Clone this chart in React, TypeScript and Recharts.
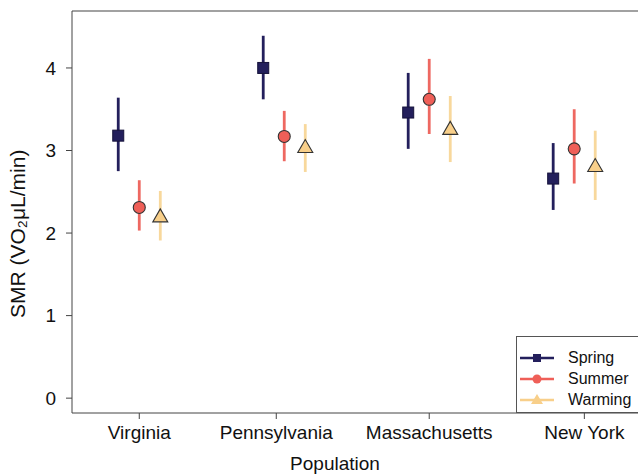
import React from "react";
import {
  ScatterChart,
  Scatter,
  XAxis,
  YAxis,
  ErrorBar,
  ReferenceLine,
} from "recharts";

const populations = ["Virginia", "Pennsylvania", "Massachusetts", "New York"];
// tick positions as placed in the original figure (not exactly on the point groups)
const tickPos = [1.0, 1.945, 3.0, 4.07];

const springMean = [3.18, 4.0, 3.46, 2.66];
const springLow = [2.75, 3.62, 3.02, 2.28];
const springHigh = [3.64, 4.39, 3.94, 3.09];

const summerMean = [2.31, 3.17, 3.62, 3.02];
const summerLow = [2.03, 2.87, 3.2, 2.6];
const summerHigh = [2.64, 3.48, 4.11, 3.5];

const warmingMean = [2.19, 3.03, 3.25, 2.8];
const warmingLow = [1.91, 2.74, 2.86, 2.4];
const warmingHigh = [2.51, 3.32, 3.66, 3.24];

const yTicks = [0, 1, 2, 3, 4];

const FONT = "'Liberation Sans', Arial, sans-serif";
const AXIS = "#444";

const build = (mean: number[], low: number[], high: number[], offset: number) =>
  populations.map((p, i) => ({
    name: p,
    x: i + 1 + offset,
    y: mean[i],
    err: [mean[i] - low[i], high[i] - mean[i]],
  }));

const springData = build(springMean, springLow, springHigh, -0.145);
const summerData = build(summerMean, summerLow, summerHigh, 0);
const warmingData = build(warmingMean, warmingLow, warmingHigh, 0.145);

const SquareShape = (props: any) => {
  const { cx, cy } = props;
  return <rect x={cx - 5.5} y={cy - 5.5} width={11} height={11} fill="#231f5c" stroke="#15123a" strokeWidth={1} />;
};

const CircleShape = (props: any) => {
  const { cx, cy } = props;
  return <circle cx={cx} cy={cy} r={6} fill="#ef5f58" stroke="#333" strokeWidth={1.1} />;
};

const TriangleShape = (props: any) => {
  const { cx, cy } = props;
  const pts = `${cx},${cy - 8.5} ${cx - 7.5},${cy + 4.5} ${cx + 7.5},${cy + 4.5}`;
  return <polygon points={pts} fill="#f8cf8a" stroke="#333" strokeWidth={1.1} />;
};

const legendItems = [
  { label: "Spring", color: "#231f5c", kind: "square" },
  { label: "Summer", color: "#ef5f58", kind: "circle" },
  { label: "Warming", color: "#f8cf8a", kind: "triangle" },
];

const LegendIcon = ({ color, kind }: { color: string; kind: string }) => (
  <svg width={34} height={14} style={{ marginRight: 14 }}>
    <line x1={0} y1={7} x2={34} y2={7} stroke={color} strokeWidth={2.5} />
    {kind === "square" && <rect x={13} y={3} width={8} height={8} fill={color} />}
    {kind === "circle" && <circle cx={17} cy={7} r={4.5} fill={color} />}
    {kind === "triangle" && <polygon points="17,1 11,11 23,11" fill={color} />}
  </svg>
);

export default function App() {
  return (
    <div style={{ position: "absolute", left: 0, top: 0, width: 638, height: 474, background: "#fff", fontFamily: FONT }}>
      <ScatterChart width={638} height={474} margin={{ top: 11, right: 0, bottom: 21, left: 0 }}>
        <XAxis
          type="number"
          dataKey="x"
          domain={[0.536, 4.44]}
          ticks={tickPos}
          tickFormatter={(v: number) => populations[tickPos.indexOf(v)] ?? ""}
          allowDataOverflow
          height={40}
          tickSize={6}
          tickMargin={7}
          stroke={AXIS}
          tick={{ fill: "#111", fontSize: 19, fontFamily: FONT }}
          label={{ value: "Population", position: "insideBottom", offset: -17, fill: "#111", fontSize: 19, fontFamily: FONT, dx: -20 }}
        />
        <YAxis
          type="number"
          dataKey="y"
          domain={[-0.18, 4.69]}
          ticks={yTicks}
          allowDataOverflow
          width={72}
          tickSize={6}
          tickMargin={10}
          stroke={AXIS}
          tick={{ fill: "#111", fontSize: 19, fontFamily: FONT }}
          label={{
            value: "SMR (VO₂μL/min)",
            angle: -90,
            position: "insideLeft",
            offset: 18,
            dy: 106,
            fill: "#111",
            fontSize: 21,
            fontFamily: FONT,
          }}
        />
        <ReferenceLine y={4.69} stroke={AXIS} strokeWidth={1.2} ifOverflow="visible" />
        <Scatter data={springData} shape={SquareShape} isAnimationActive={false}>
          <ErrorBar dataKey="err" direction="y" width={0} stroke="#231f5c" strokeWidth={2.8} />
        </Scatter>
        <Scatter data={summerData} shape={CircleShape} isAnimationActive={false}>
          <ErrorBar dataKey="err" direction="y" width={0} stroke="#ee6861" strokeWidth={2.8} />
        </Scatter>
        <Scatter data={warmingData} shape={TriangleShape} isAnimationActive={false}>
          <ErrorBar dataKey="err" direction="y" width={0} stroke="#f8d89c" strokeWidth={2.8} />
        </Scatter>
      </ScatterChart>
      <div
        style={{
          position: "absolute",
          left: 516,
          top: 336,
          width: 130,
          height: 77,
          border: "1px solid #555",
          boxSizing: "border-box",
          background: "#fff",
          paddingTop: 10,
          paddingLeft: 3,
        }}
      >
        {legendItems.map((it) => (
          <div key={it.label} style={{ display: "flex", alignItems: "center", height: 21, fontSize: 16, color: "#111" }}>
            <LegendIcon color={it.color} kind={it.kind} />
            <span>{it.label}</span>
          </div>
        ))}
      </div>
    </div>
  );
}
